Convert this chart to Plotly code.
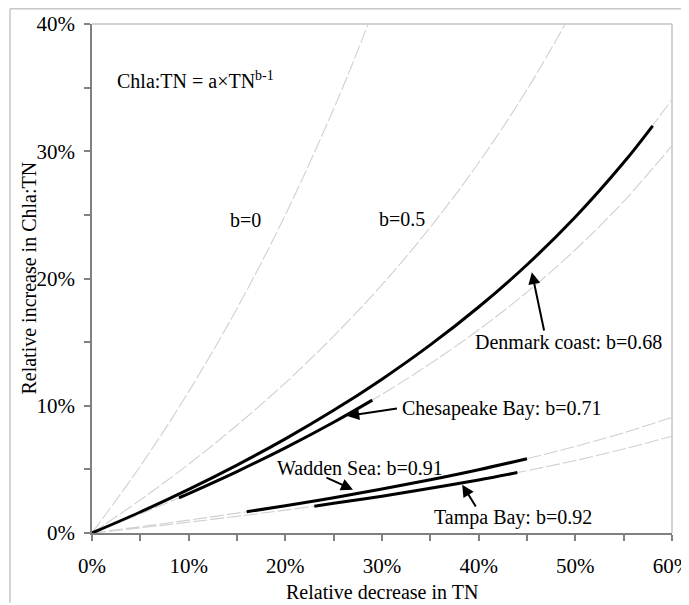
import plotly.graph_objects as go

# ---- data (percent units) ----
x_grid = [0, 5, 10, 15, 20, 25, 30, 35, 40, 45, 50, 55, 60]

b0_x = [0, 5, 10, 15, 20, 25, 27.5, 30]
b0_y = [0, 5.26, 11.11, 17.65, 25.0, 33.33, 37.93, 42.86]

b05_x = [0, 5, 10, 15, 20, 25, 30, 35, 40, 45, 50]
b05_y = [0, 2.60, 5.41, 8.47, 11.80, 15.47, 19.52, 24.03, 29.10, 34.84, 41.42]

denmark_dash_y = [0, 1.65, 3.43, 5.34, 7.40, 9.64, 12.09, 14.78, 17.76, 21.08, 24.83, 29.11, 34.07]
chesapeake_dash_y = [0, 1.50, 3.10, 4.83, 6.69, 8.70, 10.90, 13.31, 15.97, 18.93, 22.26, 26.06, 30.44]
wadden_dash_y = [0, 0.49, 1.01, 1.56, 2.14, 2.77, 3.45, 4.18, 4.97, 5.84, 6.81, 7.88, 9.09]
tampa_dash_y = [0, 0.41, 0.85, 1.31, 1.80, 2.33, 2.89, 3.51, 4.17, 4.90, 5.70, 6.60, 7.61]

denmark_x = [0, 5, 10, 15, 20, 25, 30, 35, 40, 45, 50, 55, 58]
denmark_y = [0, 1.65, 3.43, 5.34, 7.40, 9.64, 12.09, 14.78, 17.76, 21.08, 24.83, 29.11, 32.00]

chesapeake_x = [9, 10, 15, 20, 25, 29]
chesapeake_y = [2.77, 3.10, 4.83, 6.69, 8.70, 10.44]

wadden_x = [16, 20, 25, 30, 35, 40, 45]
wadden_y = [1.67, 2.14, 2.77, 3.45, 4.18, 4.97, 5.84]

tampa_x = [23, 25, 30, 35, 40, 44]
tampa_y = [2.11, 2.33, 2.89, 3.51, 4.17, 4.75]

x_ticks = [0, 10, 20, 30, 40, 50, 60]
x_tick_labels = ["0%", "10%", "20%", "30%", "40%", "50%", "60%"]
y_ticks = [0, 10, 20, 30, 40]
y_tick_labels = ["0%", "10%", "20%", "30%", "40%"]

FONT = "Liberation Serif"
DASH_COLOR = "#d0d0d0"
AX_COLOR = "#808080"

fig = go.Figure()

dash_series = [
    (b0_x, b0_y), (b05_x, b05_y),
    (x_grid, denmark_dash_y), (x_grid, chesapeake_dash_y),
    (x_grid, wadden_dash_y), (x_grid, tampa_dash_y),
]
for xs, ys in dash_series:
    fig.add_trace(go.Scatter(x=xs, y=ys, mode="lines",
                             line=dict(color=DASH_COLOR, width=1.1, dash="14px,3px", shape="spline"),
                             showlegend=False, hoverinfo="skip"))

for xs, ys in [(denmark_x, denmark_y), (chesapeake_x, chesapeake_y),
               (wadden_x, wadden_y), (tampa_x, tampa_y)]:
    fig.add_trace(go.Scatter(x=xs, y=ys, mode="lines",
                             line=dict(color="black", width=3, shape="spline"),
                             showlegend=False, hoverinfo="skip"))

tick_font = dict(family=FONT, size=21, color="black")

fig.update_xaxes(
    range=[0, 60], tickmode="array", tickvals=x_ticks, ticktext=x_tick_labels,
    tickfont=tick_font, automargin=False, ticklabelstandoff=7, ticklabeloverflow="allow",
    showgrid=False, zeroline=False, showline=True, linecolor=AX_COLOR, linewidth=1.5,
    ticks="outside", ticklen=6, tickwidth=1.5, tickcolor=AX_COLOR,
    minor=dict(dtick=5, ticks="outside", ticklen=6, tickwidth=1.5, tickcolor=AX_COLOR),
)
fig.update_yaxes(
    range=[0, 40], tickmode="array", tickvals=y_ticks, ticktext=y_tick_labels,
    tickfont=tick_font, automargin=False, ticklabelstandoff=5, ticklabeloverflow="allow",
    showgrid=False, zeroline=False, showline=True, linecolor=AX_COLOR, linewidth=1.5,
    ticks="outside", ticklen=6, tickwidth=1.5, tickcolor=AX_COLOR,
    minor=dict(dtick=5, ticks="outside", ticklen=6, tickwidth=1.5, tickcolor=AX_COLOR),
)

ann_font = dict(family=FONT, size=20, color="black")

# axis titles
fig.add_annotation(xref="paper", yref="paper", x=0.5, y=-0.1159, text="Relative decrease in TN",
                   showarrow=False, xanchor="center", yanchor="middle", font=ann_font)
fig.add_annotation(xref="paper", yref="paper", x=-0.1103, y=0.5, text="Relative increase in Chla:TN",
                   showarrow=False, xanchor="center", yanchor="middle", textangle=-90, font=ann_font)

annotations = [
    dict(x=2.4, y=35.6, text="Chla:TN = a×TN<sup>b-1</sup>", xanchor="left"),
    dict(x=15.9, y=24.6, text="b=0", xanchor="center"),
    dict(x=32.1, y=24.7, text="b=0.5", xanchor="center"),
    dict(x=39.4, y=15.0, text="Denmark coast: b=0.68", xanchor="left"),
    dict(x=31.9, y=9.8, text="Chesapeake Bay: b=0.71", xanchor="left"),
    dict(x=18.9, y=5.1, text="Wadden Sea: b=0.91", xanchor="left"),
    dict(x=35.2, y=1.2, text="Tampa Bay: b=0.92", xanchor="left"),
]
for a in annotations:
    fig.add_annotation(xref="x", yref="y", showarrow=False, yanchor="middle", font=ann_font, **a)

arrows = [
    (45.5, 20.5, 46.8, 15.8),
    (26.4, 9.2, 31.7, 9.8),
    (27.0, 3.4, 24.1, 4.4),
    (38.3, 3.8, 39.8, 1.96),
]
for tx, ty, sx, sy in arrows:
    fig.add_annotation(x=tx, y=ty, ax=sx, ay=sy, xref="x", yref="y", axref="x", ayref="y",
                       text="", showarrow=True, arrowhead=2, arrowsize=1.2, arrowwidth=2,
                       arrowcolor="black")

# plot frame (top/right lighter) and outer picture border
fig.add_shape(type="line", xref="paper", yref="paper", x0=0, x1=1, y0=1, y1=1,
              line=dict(color="#c4c4c4", width=1.5), layer="below")
fig.add_shape(type="line", xref="paper", yref="paper", x0=1, x1=1, y0=0, y1=1,
              line=dict(color="#c4c4c4", width=1.5), layer="below")
fig.add_shape(type="line", xref="paper", yref="paper", x0=-0.1414, x1=1.03, y0=1.030, y1=1.030,
              line=dict(color="#c8c8c8", width=1.5))
fig.add_shape(type="line", xref="paper", yref="paper", x0=-0.1414, x1=-0.1414, y0=-0.1375, y1=1.030,
              line=dict(color="#c8c8c8", width=1.5))

fig.update_layout(
    width=681, height=597,
    margin=dict(l=84, r=17, t=16, b=72, autoexpand=False),
    paper_bgcolor="white", plot_bgcolor="white",
    font=dict(family=FONT, size=20, color="black"),
)

fig.write_html("out.html")
